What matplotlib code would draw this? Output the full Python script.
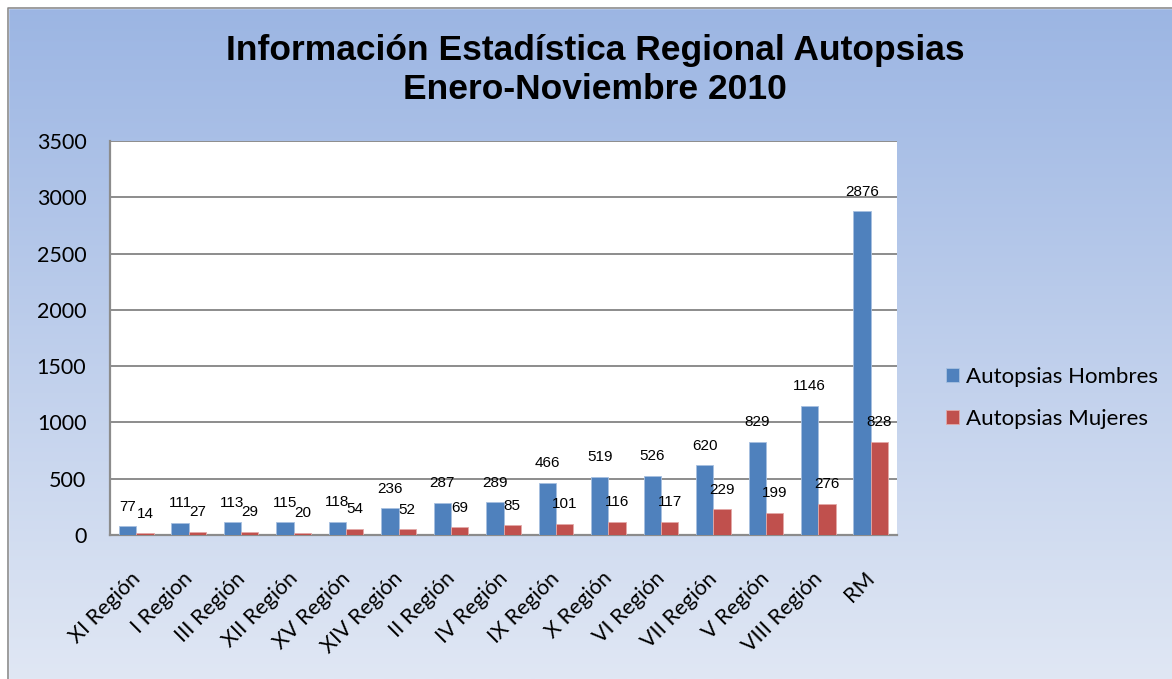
import numpy as np
import matplotlib
matplotlib.use("Agg")
import matplotlib.pyplot as plt
from matplotlib.colors import LinearSegmentedColormap
from matplotlib.patches import Rectangle

# ── データ ──
regiones = ["XI Región", "I Region", "III Región", "XII Región", "XV Región",
            "XIV Región", "II Región", "IV Región", "IX Región", "X Región",
            "VI Región", "VII Región", "V Región", "VIII Región", "RM"]
hombres = [77, 111, 113, 115, 118, 236, 287, 289, 466, 519, 526, 620, 829, 1146, 2876]
mujeres = [14, 27, 29, 20, 54, 52, 69, 85, 101, 116, 117, 229, 199, 276, 828]
yticks = [0, 500, 1000, 1500, 2000, 2500, 3000, 3500]

titulo = "Información Estadística Regional Autopsias\nEnero-Noviembre 2010"
serie_h = "Autopsias Hombres"
serie_m = "Autopsias Mujeres"

W, H = 1172, 679
fig = plt.figure(figsize=(W / 100, H / 100), dpi=100)

# fondo degradado
bg = fig.add_axes([0, 0, 1, 1], zorder=-10)
cmap = LinearSegmentedColormap.from_list("bg", ["#9bb5e3", "#e0e7f4"])
grad = np.linspace(0, 1, 256).reshape(-1, 1)
bg.imshow(grad, aspect="auto", cmap=cmap, extent=[0, 1, 0, 1], origin="upper")
bg.set_xlim(0, 1)
bg.set_ylim(0, 1)
bg.axis("off")
# blanco fuera del marco
bg.add_patch(Rectangle((0, 0), 8 / W, 1, color="white", transform=bg.transAxes, zorder=2))
bg.add_patch(Rectangle((0, 1 - 8 / H), 1, 8 / H, color="white", transform=bg.transAxes, zorder=2))
bg.plot([8 / W, 8 / W, 1], [0, 1 - 8 / H, 1 - 8 / H], color="#8c8c8c", lw=1.2, zorder=3,
        transform=bg.transAxes)

ax = fig.add_axes([110 / W, (H - 535) / H, (897 - 110) / W, (535 - 141) / H])
ax.set_facecolor("white")

x = np.arange(len(regiones))
bw = 0.33
bh = ax.bar(x - bw / 2, hombres, bw, color="#4f81bd", edgecolor="#a7c0e0", linewidth=0.6,
            label=serie_h, zorder=3)
bm = ax.bar(x + bw / 2, mujeres, bw, color="#c0504d", edgecolor="#e3a9a8", linewidth=0.6,
            label=serie_m, zorder=3)

for rect, v in zip(bh, hombres):
    ax.annotate(str(v), (rect.get_x() + rect.get_width() / 2, v), xytext=(0, 9),
                textcoords="offset points", ha="center", va="bottom",
                fontsize=11, family="Liberation Sans", color="black")
for rect, v in zip(bm, mujeres):
    ax.annotate(str(v), (rect.get_x() + rect.get_width() / 2, v), xytext=(0, 9),
                textcoords="offset points", ha="center", va="bottom",
                fontsize=11, family="Liberation Sans", color="black")

ax.set_xlim(-0.5, len(regiones) - 0.5)
ax.set_ylim(0, 3500)
ax.set_yticks(yticks)
ax.set_yticklabels([str(t) for t in yticks], fontsize=15.5, family="Lato")
ax.yaxis.grid(True, color="#8c8c8c", linewidth=1.4, zorder=0)
ax.set_axisbelow(True)
ax.tick_params(axis="y", length=0, pad=17)
ax.tick_params(axis="x", length=0, pad=24)
ax.set_xticks(x - 0.12)
ax.set_xticklabels(regiones, rotation=45, ha="right", va="top", rotation_mode="anchor",
                   fontsize=15.5, family="Lato")
for s in ["top", "right"]:
    ax.spines[s].set_visible(False)
for s in ["left", "bottom"]:
    ax.spines[s].set_color("#8c8c8c")
    ax.spines[s].set_linewidth(1.6)

fig.text(595 / W, 1 - 70 / H, titulo, ha="center", va="center", fontsize=25.5,
         fontweight="bold", family="Liberation Sans", linespacing=1.25)

leg = fig.legend(handles=[bh, bm], labels=[serie_h, serie_m],
                 loc="center left", bbox_to_anchor=(926 / W, 1 - 398 / H),
                 frameon=False, prop={"family": "Lato", "size": 16},
                 handlelength=0.6, handleheight=0.6, handletextpad=0.3, labelspacing=1.0)

fig.savefig("out.png", dpi=100)
